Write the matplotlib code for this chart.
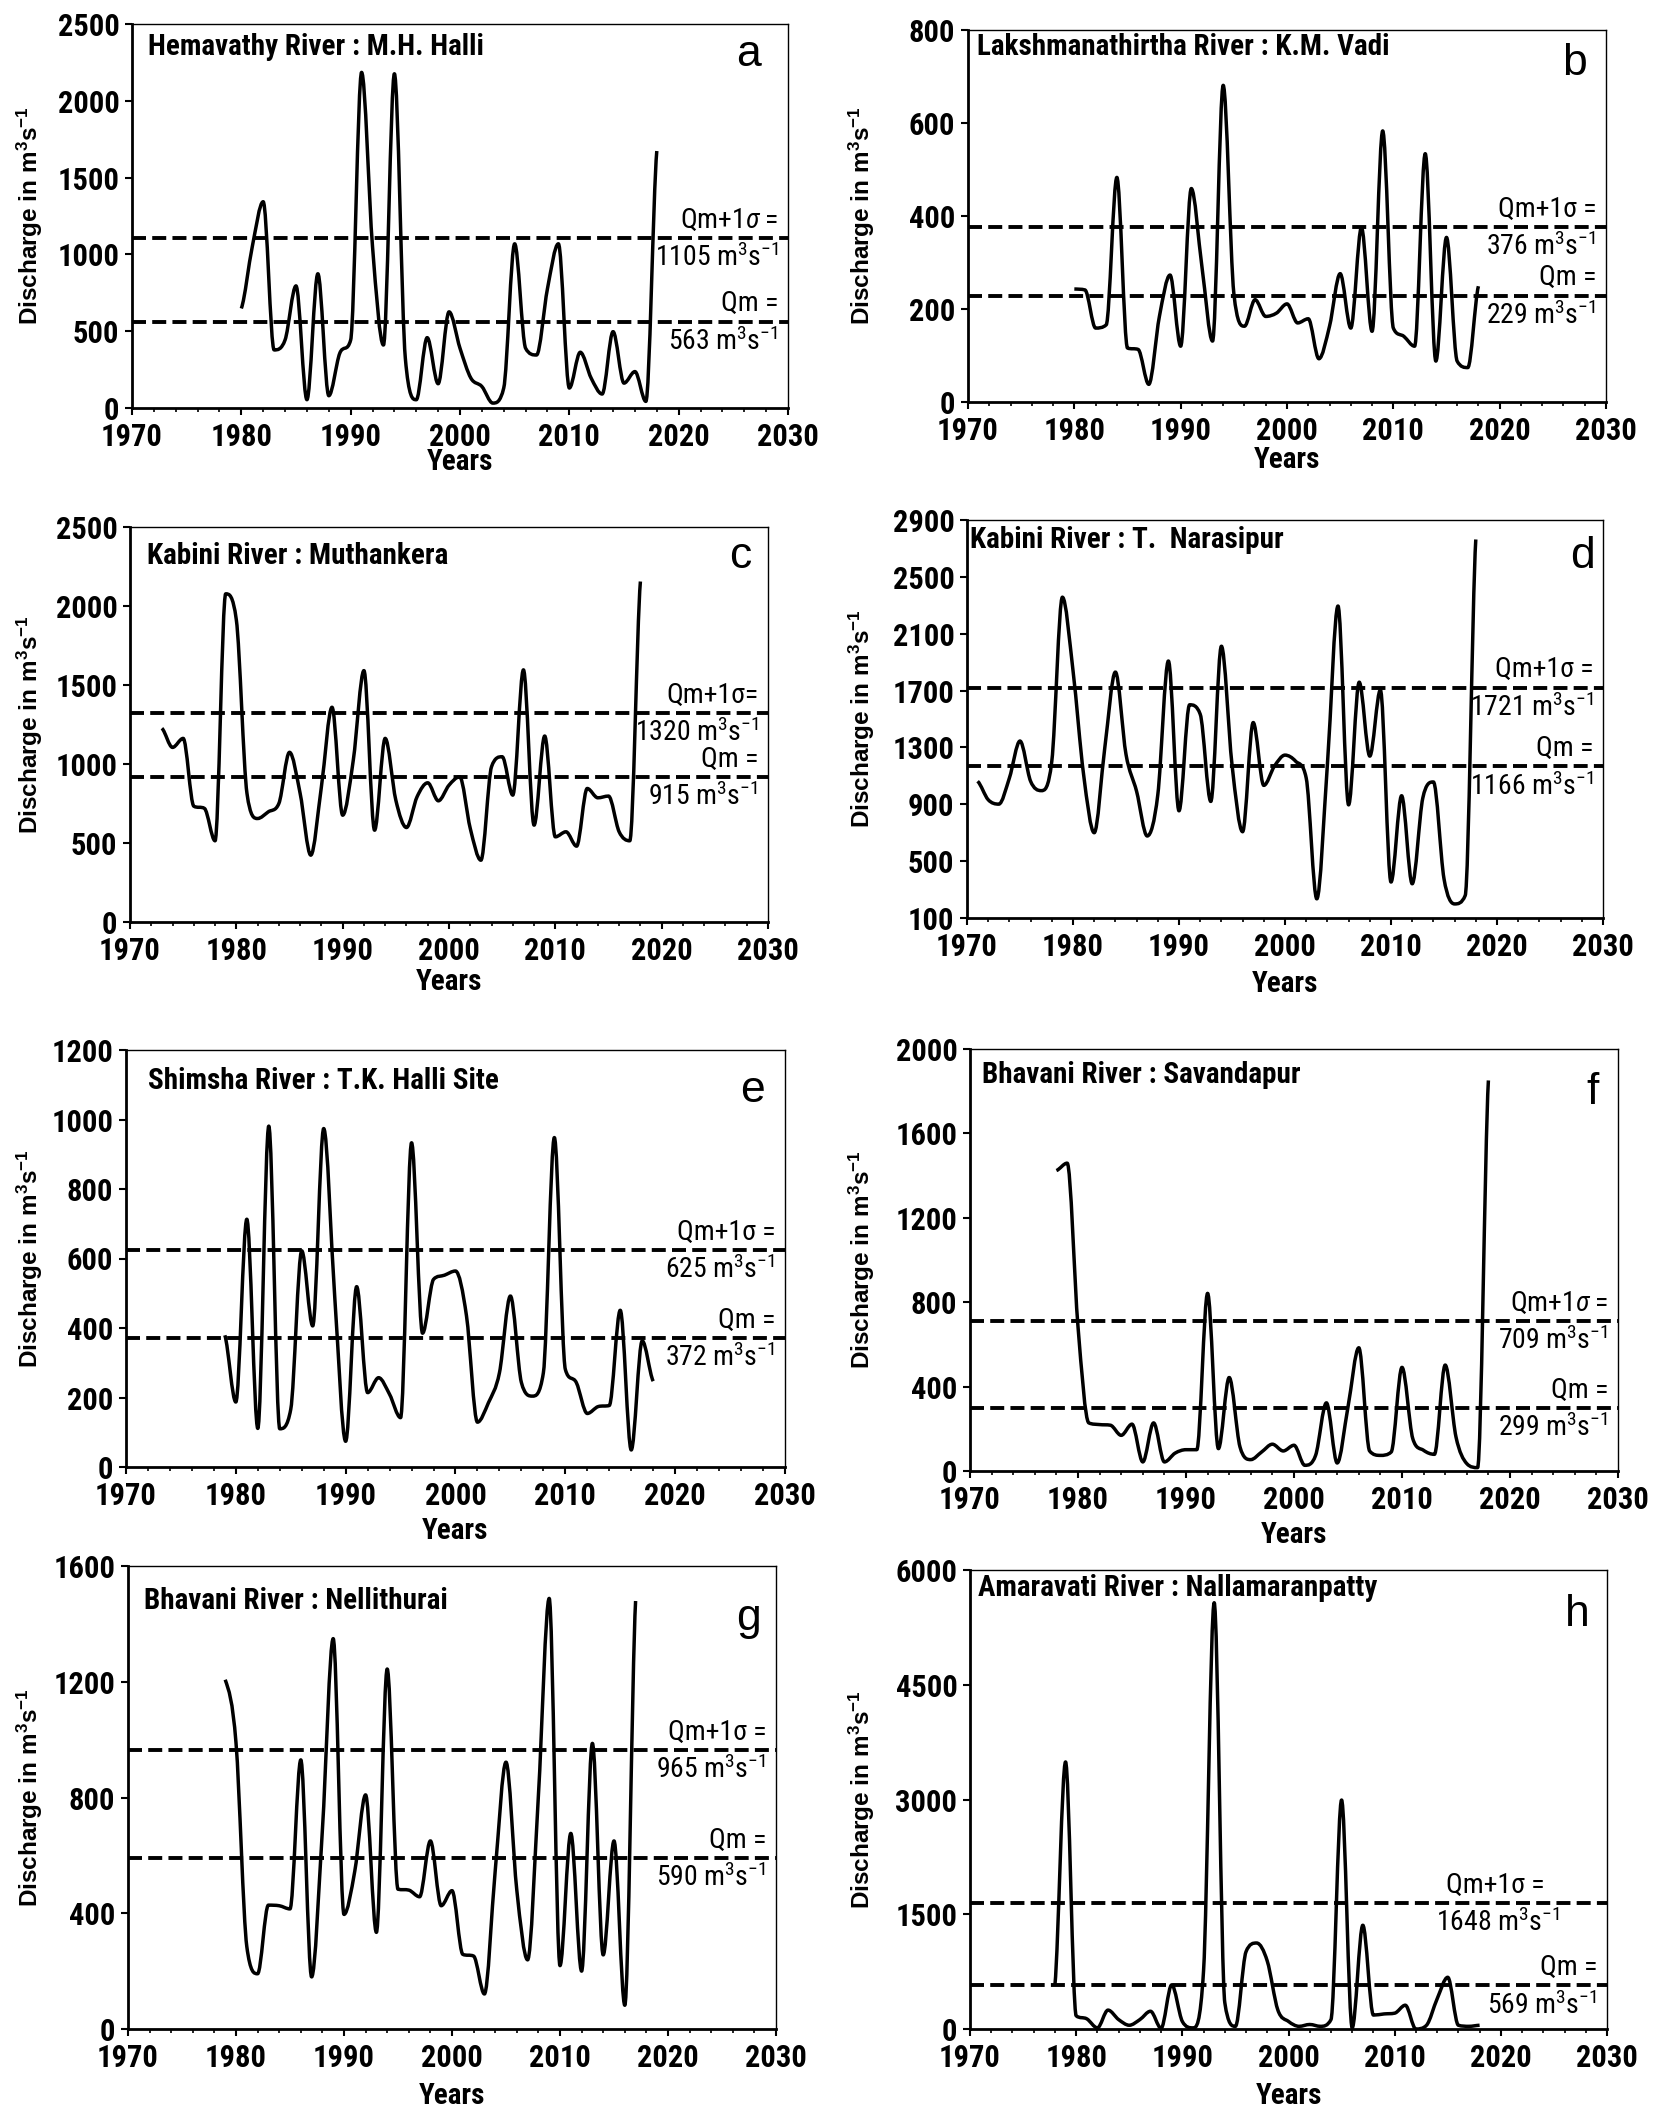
import numpy as np
import matplotlib
matplotlib.use('Agg')
import matplotlib.pyplot as plt
from matplotlib.path import Path
from matplotlib.patches import PathPatch
from matplotlib.ticker import MultipleLocator

NARROW = ['Liberation Sans Narrow', 'Roboto Condensed', 'Liberation Sans', 'DejaVu Sans']
plt.rcParams['font.family'] = NARROW
plt.rcParams['mathtext.fontset'] = 'custom'
plt.rcParams['mathtext.rm'] = 'Roboto Condensed'
plt.rcParams['mathtext.it'] = 'Roboto Condensed:italic'
plt.rcParams['mathtext.bf'] = 'Liberation Sans:bold'

# annual discharge (m3/s)
years_a = np.arange(1980, 2019)
q_a = [648, 1050, 1343, 378, 443, 795, 54, 874, 80, 356, 443, 2185, 1050, 410, 2176,
       324, 54, 458, 158, 626, 389, 194, 140, 32, 130, 1069, 389, 345, 777, 1069,
       130, 363, 194, 91, 497, 162, 237, 43, 1673]

years_b = np.arange(1980, 2019)
q_b = [243, 241, 159, 166, 483, 116, 113, 38, 184, 273, 120, 459, 291, 131, 681,
       234, 163, 220, 184, 191, 211, 170, 179, 93, 163, 276, 159, 375, 152, 583,
       159, 141, 120, 534, 88, 354, 88, 74, 249]

years_c = np.arange(1973, 2019)
q_c = [1226, 1105, 1162, 733, 719, 514, 2077, 1912, 814, 655, 697, 750, 1074, 814,
       423, 856, 1359, 676, 1025, 1591, 581, 1162, 771, 598, 793, 881, 767, 866,
       919, 592, 391, 983, 1046, 803, 1596, 613, 1177, 539, 571, 480, 845, 786,
       797, 571, 514, 2155]

years_d = np.arange(1971, 2019)
q_d = [1062, 932, 901, 1085, 1345, 1062, 996, 1203, 2357, 1841, 1109, 700, 1298,
       1830, 1251, 991, 677, 967, 1908, 854, 1600, 1534, 920, 2012, 1180, 707,
       1475, 1033, 1168, 1246, 1203, 1085, 235, 1180, 2295, 896, 1759, 1239, 1704,
       353, 960, 341, 944, 1057, 376, 199, 258, 2763]

years_e = np.arange(1979, 2019)
q_e = [379, 187, 713, 111, 981, 110, 166, 622, 406, 974, 492, 74, 519, 214, 257,
       209, 142, 933, 385, 540, 552, 564, 435, 129, 185, 271, 492, 243, 204, 271,
       948, 281, 243, 154, 174, 177, 451, 49, 363, 247]

years_f = np.arange(1978, 2019)
q_f = [1424, 1459, 684, 228, 220, 217, 169, 222, 43, 228, 43, 85, 101, 101, 842,
       106, 443, 114, 54, 90, 127, 95, 122, 27, 74, 323, 38, 304, 584, 95, 74, 90,
       491, 153, 98, 79, 502, 161, 35, 16, 1851]

years_g = np.arange(1979, 2018)
q_g = [1207, 989, 285, 191, 428, 426, 415, 930, 180, 689, 1349, 396, 546, 809, 334,
       1244, 483, 480, 457, 650, 426, 478, 258, 252, 121, 546, 922, 480, 239, 807,
       1488, 219, 676, 200, 987, 256, 650, 82, 1479]

years_h = np.arange(1978, 2019)
q_h = [577, 3491, 173, 133, 15, 247, 123, 49, 123, 232, 10, 577, 99, 15, 764, 5572,
       345, 35, 1011, 1124, 888, 247, 99, 35, 59, 35, 123, 2993, 15, 1356, 182, 197,
       207, 311, 0, 49, 394, 676, 49, 35, 49]

# mean and mean + 1 sigma
qm = [563, 229, 915, 1166, 372, 299, 590, 569]
qs = [1105, 376, 1320, 1721, 625, 709, 965, 1648]

titles = ['Hemavathy River : M.H. Halli', 'Lakshmanathirtha River : K.M. Vadi',
          'Kabini River : Muthankera', 'Kabini River : T.  Narasipur',
          'Shimsha River : T.K. Halli Site', 'Bhavani River : Savandapur',
          'Bhavani River : Nellithurai', 'Amaravati River : Nallamaranpatty']
letters = ['a', 'b', 'c', 'd', 'e', 'f', 'g', 'h']
sig_labels = ['Qm+1$\\sigma$ =', 'Qm+1σ =', 'Qm+1σ=', 'Qm+1σ =',
              'Qm+1σ =', 'Qm+1$\\sigma$ =', 'Qm+1σ =', 'Qm+1σ =']
yticks = [np.arange(0, 2501, 500), np.arange(0, 801, 200), np.arange(0, 2501, 500),
          np.arange(100, 2901, 400), np.arange(0, 1201, 200), np.arange(0, 2001, 400),
          np.arange(0, 1601, 400), np.arange(0, 6001, 1500)]
series = [(years_a, q_a), (years_b, q_b), (years_c, q_c), (years_d, q_d),
          (years_e, q_e), (years_f, q_f), (years_g, q_g), (years_h, q_h)]

# axes boxes in pixels: left, right, top, bottom
boxes = [(132, 788, 24, 408), (968, 1606, 30, 402),
         (130, 768, 527, 922), (967, 1603, 520, 918),
         (126, 785, 1050, 1467), (970, 1618, 1049, 1471),
         (128, 776, 1566, 2029), (970, 1607, 1570, 2029)]
title_pos = [(0.025, 0.94), (0.014, 0.954), (0.026, 0.926), (0.004, 0.951),
             (0.033, 0.926), (0.019, 0.939), (0.024, 0.924), (0.012, 0.961)]
letter_pos = [(0.94, 0.92), (0.95, 0.91), (0.956, 0.926), (0.967, 0.909),
              (0.95, 0.902), (0.96, 0.896), (0.957, 0.887), (0.954, 0.904)]

W, H = 1653, 2117


def smooth_path(x, y):
    # smoothed line through the yearly values, no overshoot at peaks/troughs
    x = np.asarray(x, float)
    y = np.asarray(y, float)
    n = len(y)
    d = np.diff(y) / np.diff(x)
    m = np.zeros(n)
    for i in range(1, n - 1):
        if d[i - 1] * d[i] > 0:
            m[i] = (d[i - 1] + d[i]) / 2
            lim = 3 * min(abs(d[i - 1]), abs(d[i]))
            m[i] = np.sign(m[i]) * min(abs(m[i]), lim)
    m[0] = d[0] / 2
    m[-1] = d[-1] / 2
    verts = [(x[0], y[0])]
    codes = [Path.MOVETO]
    for i in range(n - 1):
        h = (x[i + 1] - x[i]) / 3
        verts += [(x[i] + h, y[i] + m[i] * h), (x[i + 1] - h, y[i + 1] - m[i + 1] * h),
                  (x[i + 1], y[i + 1])]
        codes += [Path.CURVE4] * 3
    return Path(verts, codes)


fig = plt.figure(figsize=(W / 100, H / 100), dpi=100)

for i in range(8):
    l, r, t, b = boxes[i]
    ax = fig.add_axes([l / W, (H - b) / H, (r - l) / W, (b - t) / H])
    yrs, q = series[i]
    ax.add_patch(PathPatch(smooth_path(yrs, q), fill=False, lw=2.5,
                           edgecolor='black', joinstyle='round'))
    for v in (qm[i], qs[i]):
        ax.axhline(v, color='black', lw=2.8, ls=(0, (3.6, 1.6)))

    ax.set_xlim(1970, 2030)
    ax.set_ylim(yticks[i][0], yticks[i][-1])
    ax.set_yticks(yticks[i])
    ax.xaxis.set_major_locator(MultipleLocator(10))
    ax.xaxis.set_minor_locator(MultipleLocator(2))
    ax.tick_params(axis='both', which='major', direction='out', length=5, width=1.5,
                   labelsize=22)
    ax.tick_params(axis='x', which='major', pad=5)
    ax.tick_params(axis='y', which='major', pad=4)
    ax.tick_params(axis='x', which='minor', direction='out', length=3, width=1.2)
    for lab in ax.get_xticklabels() + ax.get_yticklabels():
        lab.set_fontweight('bold')
    for s in ('left', 'bottom'):
        ax.spines[s].set_linewidth(2.0)
    for s in ('top', 'right'):
        ax.spines[s].set_linewidth(1.0)

    ax.set_ylabel('Discharge in m$^\\mathbf{3}$s$^\\mathbf{-1}$', fontsize=17.5,
                  fontweight='bold', family=['Liberation Sans', 'DejaVu Sans'])
    xlab = 30 if i % 2 == 0 else 862
    ax.yaxis.set_label_coords((xlab - l) / (r - l), 0.5)
    ax.yaxis.label.set_va('center')
    ax.set_xlabel('Years', fontsize=21, fontweight='bold')
    yoff = [54, 58, 60, 66, 64, 64, 67, 67][i]
    ax.xaxis.set_label_coords(0.5, -yoff / (b - t))
    ax.xaxis.label.set_va('center')

    ax.text(title_pos[i][0], title_pos[i][1], titles[i], transform=ax.transAxes,
            fontsize=21, fontweight='bold', ha='left', va='center')
    ax.text(letter_pos[i][0], letter_pos[i][1], letters[i], transform=ax.transAxes,
            fontsize=32, ha='center', va='center',
            family=['Liberation Sans', 'DejaVu Sans'])

    unit = ' m$^{3}$s$^{-1}$'
    lab_kw = dict(fontsize=20)
    if i == 7:
        ax.annotate(sig_labels[i], xy=(2019.5, qs[i]), xytext=(0, 3),
                    textcoords='offset points', ha='center', va='bottom', **lab_kw)
        ax.annotate(str(qs[i]) + unit, xy=(2019.7, qs[i]), xytext=(0, -4),
                    textcoords='offset points', ha='center', va='top', **lab_kw)
    else:
        ax.annotate(sig_labels[i], xy=(1, qs[i]), xycoords=('axes fraction', 'data'),
                    xytext=(-7, 3), textcoords='offset points', ha='right',
                    va='bottom', **lab_kw)
        ax.annotate(str(qs[i]) + unit, xy=(1, qs[i]), xycoords=('axes fraction', 'data'),
                    xytext=(-7, -4), textcoords='offset points', ha='right',
                    va='top', **lab_kw)
    ax.annotate('Qm =', xy=(1, qm[i]), xycoords=('axes fraction', 'data'),
                xytext=(-7, 3), textcoords='offset points', ha='right',
                va='bottom', **lab_kw)
    ax.annotate(str(qm[i]) + unit, xy=(1, qm[i]), xycoords=('axes fraction', 'data'),
                xytext=(-7, -4), textcoords='offset points', ha='right',
                va='top', **lab_kw)

fig.savefig('out.png', dpi=100)
